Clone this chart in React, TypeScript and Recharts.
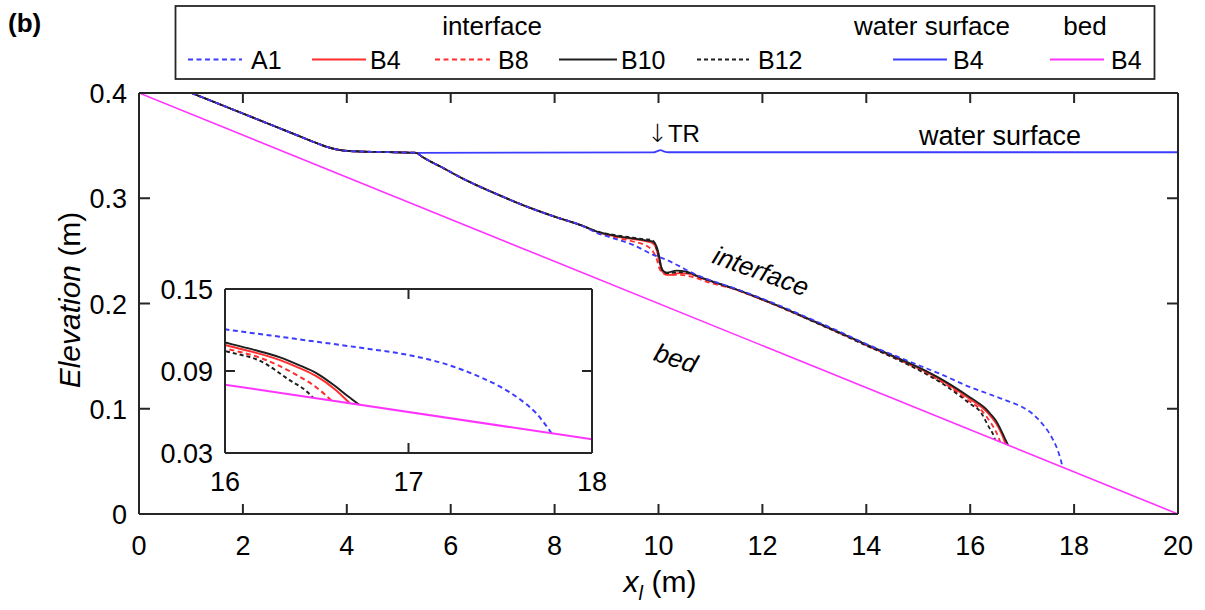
import React from 'react';
import { LineChart, Line, XAxis, YAxis } from 'recharts';

type Pt = [number, number];

// shared upstream part (interface and water surface coincide here)
const upstream: Pt[] = [
  [1.01, 0.4], [2, 0.3805], [3, 0.3607], [3.45, 0.3518], [3.65, 0.3483], [3.8, 0.3464],
  [3.95, 0.3452], [4.2, 0.3445], [4.8, 0.3438], [5.33, 0.3432],
];

const plunge: Pt[] = [
  [5.45, 0.3395], [5.6, 0.3352], [5.8, 0.3302], [6.2, 0.3195], [6.56, 0.311], [7.0, 0.3015],
  [7.53, 0.2908], [8.0, 0.2825], [8.49, 0.2747],
];

const a1Tail: Pt[] = [
  [8.87, 0.266], [9.2, 0.261], [9.51, 0.2557], [9.9, 0.2462], [10.16, 0.2414], [10.4, 0.2355],
  [10.6, 0.2303], [10.8, 0.2258], [11.44, 0.2148], [11.95, 0.2055], [12.5, 0.1945], [13.0, 0.1838],
  [13.5, 0.173], [14.0, 0.1615], [14.5, 0.1515], [15.0, 0.1415], [15.5, 0.1315], [16.0, 0.1205],
  [16.25, 0.116], [16.5, 0.1114], [16.75, 0.1068], [17.0, 0.1017], [17.1, 0.0988], [17.2, 0.0952],
  [17.3, 0.0905], [17.4, 0.085], [17.5, 0.0785], [17.6, 0.07], [17.7, 0.0585], [17.78, 0.0444],
];

const b4Tail: Pt[] = [
  [8.87, 0.2672], [9.2, 0.2636], [9.51, 0.2612], [9.75, 0.2592], [9.88, 0.2575], [9.95, 0.253],
  [10.0, 0.244], [10.05, 0.233], [10.1, 0.229], [10.2, 0.2272], [10.4, 0.2288], [10.6, 0.2282],
  [10.8, 0.2245], [11.44, 0.2142], [11.95, 0.2047], [12.5, 0.1936], [13.0, 0.1828], [13.5, 0.172],
  [14.0, 0.1607], [14.5, 0.15], [15.0, 0.1388], [15.5, 0.1255], [16.0, 0.109],
  [16.15, 0.104], [16.3, 0.098], [16.4, 0.0925], [16.5, 0.086], [16.6, 0.0765], [16.68, 0.0664],
];

const b8Tail: Pt[] = [
  [8.87, 0.2665], [9.2, 0.2625], [9.51, 0.2589], [9.8, 0.254], [9.9, 0.249], [9.96, 0.243],
  [10.03, 0.232], [10.16, 0.2272], [10.41, 0.2272], [10.67, 0.225], [11.0, 0.2195], [11.44, 0.214],
  [11.95, 0.2045], [12.5, 0.1933], [13.0, 0.1825], [13.5, 0.1716], [14.0, 0.1603], [14.5, 0.1494],
  [15.0, 0.1378], [15.5, 0.124], [16.0, 0.1066], [16.2, 0.0993], [16.3, 0.0935],
  [16.4, 0.0864], [16.5, 0.0778], [16.58, 0.0684],
];

const b10Tail: Pt[] = [
  [8.87, 0.2675], [9.2, 0.264], [9.51, 0.2618], [9.75, 0.26], [9.9, 0.2585], [9.96, 0.2545],
  [10.0, 0.248], [10.04, 0.238], [10.07, 0.232], [10.16, 0.2294], [10.35, 0.2313], [10.54, 0.2303],
  [10.8, 0.225], [11.44, 0.2145], [11.95, 0.205], [12.5, 0.1938], [13.0, 0.183], [13.5, 0.1722],
  [14.0, 0.161], [14.5, 0.1505], [15.0, 0.1395], [15.5, 0.1265], [16.0, 0.1108],
  [16.15, 0.1058], [16.3, 0.1], [16.4, 0.0945], [16.5, 0.0883], [16.6, 0.079], [16.67, 0.0715],
  [16.73, 0.0654],
];

const b12Tail: Pt[] = [
  [8.87, 0.2677], [9.2, 0.2648], [9.51, 0.2626], [9.71, 0.2612], [9.87, 0.2606], [9.93, 0.257],
  [9.98, 0.249], [10.03, 0.238], [10.08, 0.2315], [10.16, 0.2288], [10.4, 0.2298], [10.6, 0.2288],
  [10.8, 0.2248], [11.44, 0.2143], [11.95, 0.2047], [12.5, 0.1934], [13.0, 0.1824], [13.5, 0.1714],
  [14.0, 0.16], [14.5, 0.149], [15.0, 0.137], [15.5, 0.1228], [16.0, 0.1046],
  [16.2, 0.0968], [16.35, 0.0835], [16.45, 0.0745], [16.48, 0.0704],
];

const waterTail: Pt[] = [
  [9.9, 0.3436], [9.98, 0.3448], [10.04, 0.3458], [10.1, 0.3446], [10.2, 0.3437], [20, 0.3437],
];

const bed: Pt[] = [[0, 0.4], [20, 0]];

const xTicks = [0, 2, 4, 6, 8, 10, 12, 14, 16, 18, 20];
const yTicks = [0, 0.1, 0.2, 0.3, 0.4];
const insetXTicks = [16, 17, 18];
const insetYTicks = [0.03, 0.09, 0.15];

const FONT = '"Liberation Sans", Arial, Helvetica, sans-serif';
const AXIS = '#262626';
const BLUE = '#3c3cff';
const RED = '#ff2d2d';
const BLACK = '#1e1e1e';
const MAGENTA = '#ff33ff';

const rows = (pts: Pt[]) => pts.map(([x, y]) => ({ x, y }));

const SERIES = [
  { key: 'ws', data: rows([...upstream, ...waterTail]), stroke: BLUE, dash: undefined, w: 1.8 },
  { key: 'B4', data: rows([...upstream, ...plunge, ...b4Tail]), stroke: RED, dash: undefined, w: 1.8 },
  { key: 'B8', data: rows([...upstream, ...plunge, ...b8Tail]), stroke: RED, dash: '5 3.5', w: 1.8 },
  { key: 'B10', data: rows([...upstream, ...plunge, ...b10Tail]), stroke: BLACK, dash: undefined, w: 1.8 },
  { key: 'B12', data: rows([...upstream, ...plunge, ...b12Tail]), stroke: BLACK, dash: '4 3', w: 1.8 },
  { key: 'A1', data: rows([...upstream, ...plunge, ...a1Tail]), stroke: BLUE, dash: '5 3.5', w: 1.8 },
  { key: 'bed', data: rows(bed), stroke: MAGENTA, dash: undefined, w: 1.6 },
];

const LEGEND = [
  { label: 'A1', x1: 188, x2: 242, tx: 251, stroke: BLUE, dash: '5 3.5' },
  { label: 'B4', x1: 312, x2: 366, tx: 370, stroke: RED, dash: undefined },
  { label: 'B8', x1: 435, x2: 490, tx: 498, stroke: RED, dash: '5 3.5' },
  { label: 'B10', x1: 559, x2: 617, tx: 621, stroke: BLACK, dash: undefined },
  { label: 'B12', x1: 697, x2: 749, tx: 758, stroke: BLACK, dash: '4 3' },
  { label: 'B4', x1: 893, x2: 947, tx: 953, stroke: BLUE, dash: undefined },
  { label: 'B4', x1: 1050, x2: 1104, tx: 1111, stroke: MAGENTA, dash: undefined },
];

const makeTick = (side: 'bottom' | 'top' | 'left' | 'right', len: number, fmt?: (v: number) => string, gap = 41) =>
  (props: any) => {
    const { x, y, payload } = props;
    const v = payload.value as number;
    const txt = { fontFamily: FONT, fontSize: 27, fill: '#000' };
    if (side === 'bottom') {
      return (
        <g>
          <line x1={x} x2={x} y1={y} y2={y - len} stroke={AXIS} strokeWidth={2} />
          {fmt && <text x={x} y={y + gap} textAnchor="middle" {...txt}>{fmt(v)}</text>}
        </g>
      );
    }
    if (side === 'top') return <line x1={x} x2={x} y1={y} y2={y + len} stroke={AXIS} strokeWidth={2} />;
    if (side === 'left') {
      return (
        <g>
          <line x1={x} x2={x + len} y1={y} y2={y} stroke={AXIS} strokeWidth={2} />
          {fmt && <text x={x - 12} y={y + 10} textAnchor="end" {...txt}>{fmt(v)}</text>}
        </g>
      );
    }
    return <line x1={x} x2={x - len} y1={y} y2={y} stroke={AXIS} strokeWidth={2} />;
  };

const axisLine = { stroke: AXIS, strokeWidth: 2 };

// four axes per panel, MATLAB-style box with inward ticks
const boxAxes = (xd: [number, number], yd: [number, number], xt: number[], yt: number[],
  xFmt: (v: number) => string, yFmt: (v: number) => string, xGap: number, xH: number, yW: number, yLen: number) => [
  <XAxis key="xb" xAxisId="b" type="number" dataKey="x" domain={xd} ticks={xt} allowDataOverflow
    height={xH} axisLine={axisLine} tickLine={false} tickSize={0} tickMargin={0}
    tick={makeTick('bottom', 10, xFmt, xGap)} />,
  <XAxis key="xt" xAxisId="t" orientation="top" type="number" dataKey="x" domain={xd} ticks={xt} allowDataOverflow
    height={1} axisLine={axisLine} tickLine={false} tickSize={0} tickMargin={0}
    tick={makeTick('top', 10)} />,
  <YAxis key="yl" yAxisId="l" type="number" dataKey="y" domain={yd} ticks={yt} allowDataOverflow
    width={yW} axisLine={axisLine} tickLine={false} tickSize={0} tickMargin={0}
    tick={makeTick('left', yLen, yFmt)} />,
  <YAxis key="yr" yAxisId="r" orientation="right" type="number" dataKey="y" domain={yd} ticks={yt} allowDataOverflow
    width={1} axisLine={axisLine} tickLine={false} tickSize={0} tickMargin={0}
    tick={makeTick('right', yLen)} />,
  <Line key="hidden" xAxisId="t" yAxisId="r" data={rows(bed)} dataKey="y" stroke="none" dot={false}
    isAnimationActive={false} />,
];

const App: React.FC = () => {
  return (
    <div style={{ position: 'absolute', left: 0, top: 0, width: 1205, height: 610, background: '#fff' }}>
      <LineChart width={1205} height={610} margin={{ top: 92, right: 26, bottom: 36, left: 79 }}>
        {boxAxes([0, 20], [0, 0.4], xTicks, yTicks, (v) => String(v),
          (v) => (v === 0 ? '0' : v.toFixed(1)), 41, 60, 60, 11)}
        {SERIES.map((s) => (
          <Line key={s.key} xAxisId="b" yAxisId="l" data={s.data} dataKey="y" type="monotone"
            stroke={s.stroke} strokeWidth={s.w} strokeDasharray={s.dash} dot={false}
            isAnimationActive={false} />
        ))}
      </LineChart>

      <div style={{ position: 'absolute', left: 150, top: 270, width: 460, height: 240 }}>
        <LineChart width={460} height={240} margin={{ top: 18, right: 17, bottom: 7, left: 10 }}>
          {boxAxes([16, 18], [0.03, 0.15], insetXTicks, insetYTicks, (v) => String(v),
            (v) => v.toFixed(2), 38, 50, 65, 10)}
          {SERIES.filter((s) => s.key !== 'ws').map((s) => (
            <Line key={s.key} xAxisId="b" yAxisId="l" data={s.data} dataKey="y" type="monotone"
              stroke={s.stroke} strokeWidth={2} strokeDasharray={s.dash} dot={false}
              isAnimationActive={false} />
          ))}
        </LineChart>
      </div>

      <svg width={1205} height={610} style={{ position: 'absolute', left: 0, top: 0, pointerEvents: 'none' }}
        fontFamily={FONT}>
        <text x={8} y={32} fontSize={26} fontWeight="bold">(b)</text>

        <rect x={175.5} y={6} width={979} height={73} fill="#fff" stroke={AXIS} strokeWidth={1.8} />
        <text x={492} y={35} textAnchor="middle" fontSize={26}>interface</text>
        <text x={932} y={35} textAnchor="middle" fontSize={26}>water surface</text>
        <text x={1085} y={35} textAnchor="middle" fontSize={26}>bed</text>
        {LEGEND.map((l, i) => (
          <g key={i}>
            <line x1={l.x1} x2={l.x2} y1={59.5} y2={59.5} stroke={l.stroke} strokeWidth={1.8} strokeDasharray={l.dash} />
            <text x={l.tx} y={68.5} fontSize={25}>{l.label}</text>
          </g>
        ))}

        <text x={647} y={142} fontSize={24}>
          <tspan fontFamily='"DejaVu Sans", sans-serif' fontSize={25} fontWeight={200}>↓</tspan>TR
        </text>
        <text x={919} y={145} fontSize={27}>water surface</text>
        <text x={761} y={271} dy="0.35em" textAnchor="middle" fontSize={26} fontStyle="italic"
          transform="rotate(20 761 271)">interface</text>
        <text x={676} y={358} dy="0.35em" textAnchor="middle" fontSize={26} fontStyle="italic"
          transform="rotate(18 676 358)">bed</text>

        <text x={660} y={592} textAnchor="middle" fontSize={30}>
          <tspan fontStyle="italic">x</tspan>
          <tspan fontStyle="italic" fontSize={20} dy={8}>l</tspan>
          <tspan dy={-8}> (m)</tspan>
        </text>
        <text x={80} y={300} textAnchor="middle" fontSize={30} transform="rotate(-90 80 300)">
          <tspan fontStyle="italic">Elevation</tspan> (m)
        </text>
      </svg>
    </div>
  );
};

export default App;
